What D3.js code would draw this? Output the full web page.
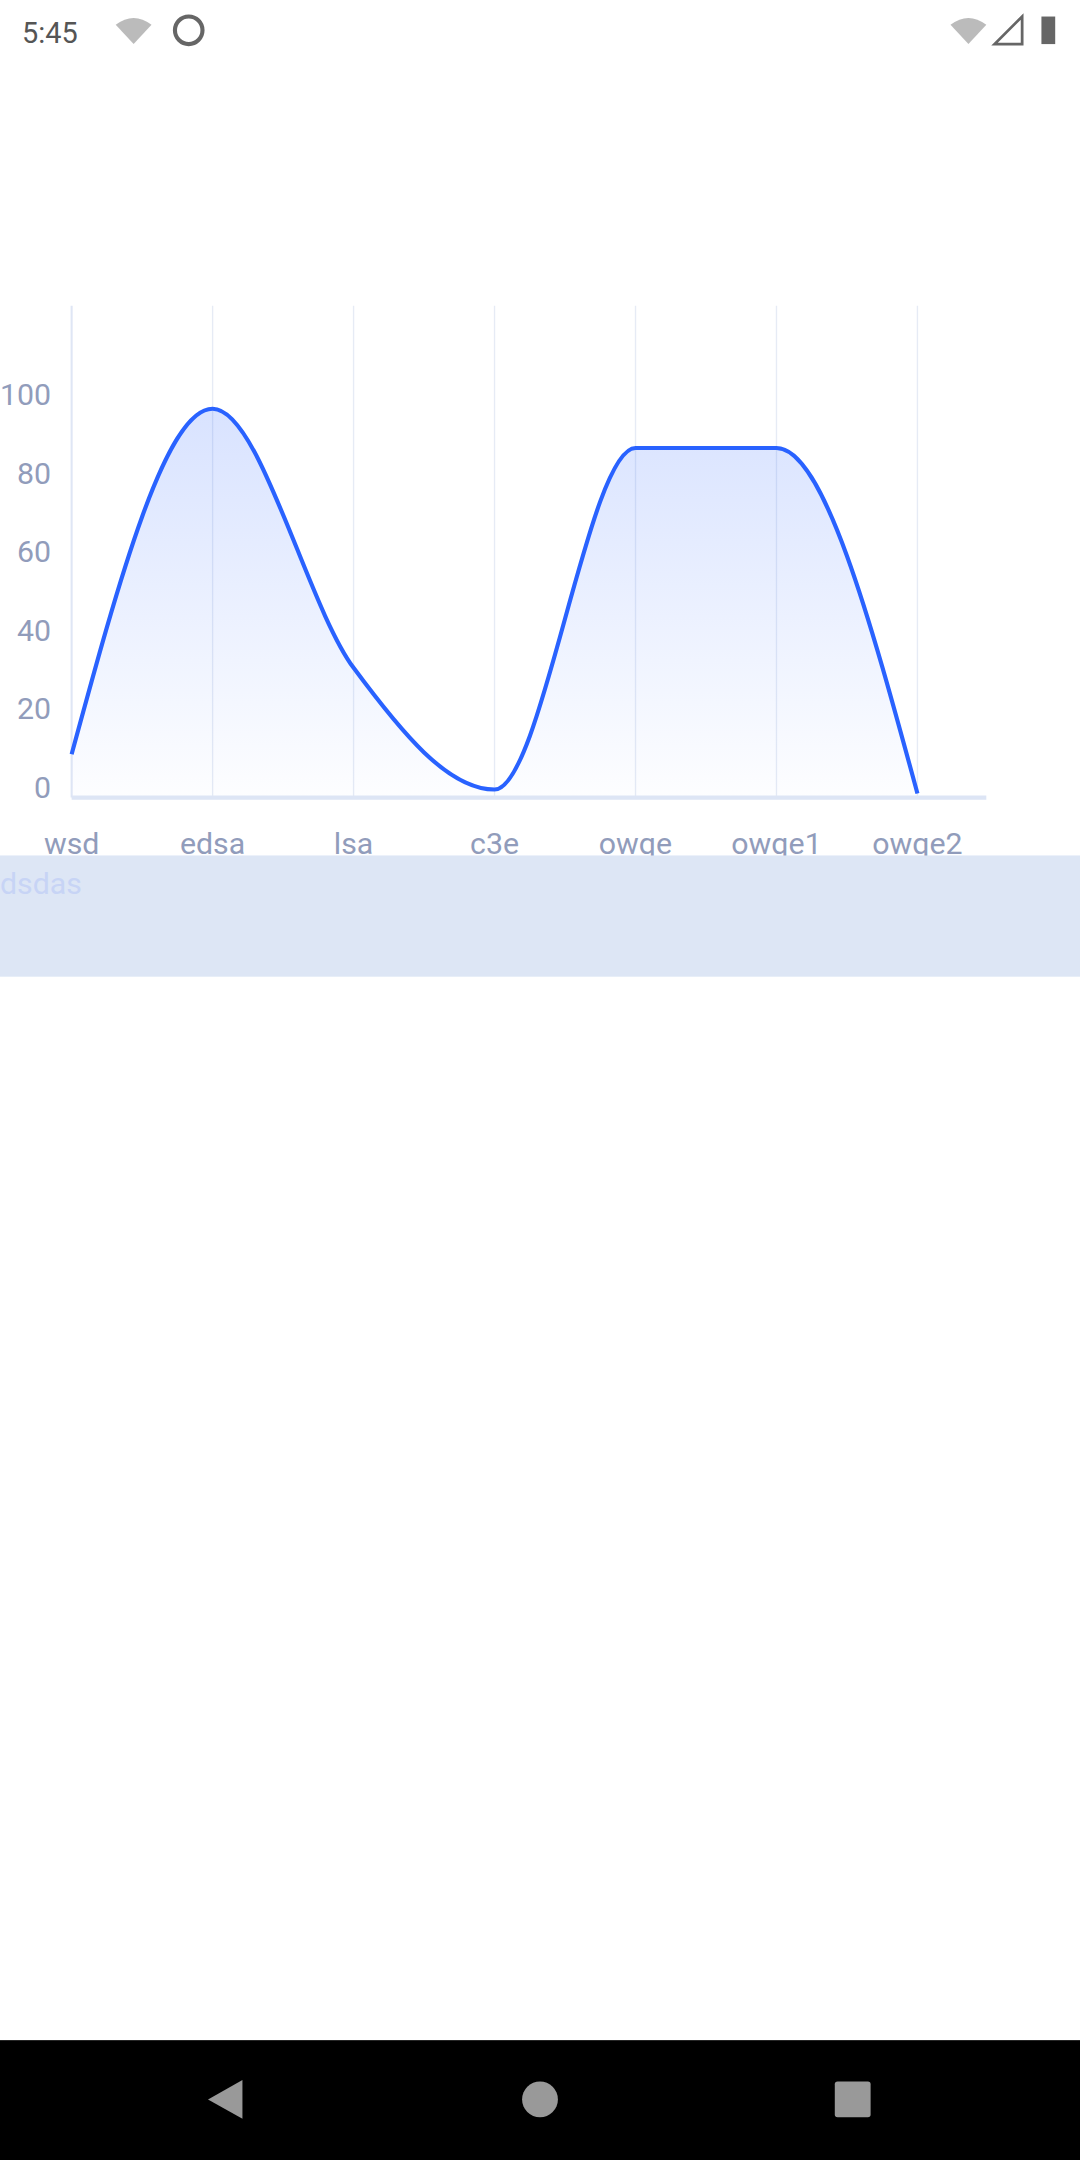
<!DOCTYPE html>
<html>
<head>
<meta charset="utf-8">
<script src="https://cdn.jsdelivr.net/npm/d3@7"></script>
<style>
  body { margin: 0; background: #fff; }
  svg { display: block; font-family: Roboto, "Noto Sans", sans-serif; }
</style>
</head>
<body>
<svg id="chart" width="1080" height="2160" viewBox="0 0 784 1568"></svg>
<script>
const categories = ['wsd', 'edsa', 'lsa', 'c3e', 'owqe', 'owqe1', 'owqe2'];
const values = [10, 98, 32, 1, 88, 88, 0];
const yTicks = [0, 20, 40, 60, 80, 100];

const svg = d3.select('#chart');

// status bar
svg.append('text').attr('x', 16).attr('y', 31).attr('font-size', 21).attr('fill', '#555').text('5:45');
svg.append('circle').attr('cx', 137).attr('cy', 22).attr('r', 10).attr('fill', 'none').attr('stroke', '#666').attr('stroke-width', 3);
svg.append('path').attr('d', 'M84,18 Q97,8 110,18 L97,32 Z').attr('fill', '#bbb');
svg.append('path').attr('d', 'M690,18 Q703,8 716,18 L703,32 Z').attr('fill', '#bbb');
svg.append('path').attr('d', 'M742,12 L742,32 L722,32 Z').attr('fill', 'none').attr('stroke', '#666').attr('stroke-width', 2);
svg.append('rect').attr('x', 756).attr('y', 12).attr('width', 10).attr('height', 20).attr('fill', '#666');

const x = d3.scalePoint().domain(categories).range([52, 666]);
const y = d3.scaleLinear().domain([0, 100]).range([576, 291]);

// vertical grid
svg.append('g').selectAll('line').data(categories.slice(1)).join('line')
  .attr('x1', d => x(d)).attr('x2', d => x(d))
  .attr('y1', 222).attr('y2', 579)
  .attr('stroke', '#e6ebf5').attr('stroke-width', 1);
svg.append('line').attr('x1', 52).attr('x2', 52).attr('y1', 222).attr('y2', 579)
  .attr('stroke', '#dfe6f5').attr('stroke-width', 1.5);

const grad = svg.append('defs').append('linearGradient')
  .attr('id', 'fillGrad').attr('x1', 0).attr('x2', 0).attr('y1', 0).attr('y2', 1);
grad.append('stop').attr('offset', '0%').attr('stop-color', '#2962ff').attr('stop-opacity', 0.18);
grad.append('stop').attr('offset', '100%').attr('stop-color', '#2962ff').attr('stop-opacity', 0.01);

const pts = categories.map((c, i) => [x(c), y(values[i])]);
svg.append('path').datum(pts)
  .attr('d', d3.area().x(d => d[0]).y0(579).y1(d => d[1]).curve(d3.curveMonotoneX))
  .attr('fill', 'url(#fillGrad)');
svg.append('path').datum(pts)
  .attr('d', d3.line().curve(d3.curveMonotoneX))
  .attr('fill', 'none').attr('stroke', '#2962ff').attr('stroke-width', 3);

// x axis line
svg.append('line').attr('x1', 52).attr('x2', 716).attr('y1', 579).attr('y2', 579)
  .attr('stroke', '#dde5f5').attr('stroke-width', 3);

// y labels
svg.append('g').selectAll('text').data(yTicks).join('text')
  .attr('x', 37).attr('y', d => y(d) + 3).attr('text-anchor', 'end')
  .attr('font-size', 22).attr('fill', '#919cbb').text(d => d);

// x labels
svg.append('g').selectAll('text').data(categories).join('text')
  .attr('x', d => x(d)).attr('y', 620).attr('text-anchor', 'middle')
  .attr('font-size', 22).attr('fill', '#919cbb').text(d => d);

// band
svg.append('rect').attr('x', 0).attr('y', 621).attr('width', 784).attr('height', 88).attr('fill', '#dde6f5');
svg.append('text').attr('x', 0).attr('y', 649).attr('font-size', 22).attr('fill', '#c7d4f5').text('dsdas');

// nav bar
svg.append('rect').attr('x', 0).attr('y', 1481).attr('width', 784).attr('height', 87).attr('fill', '#000');
svg.append('path').attr('d', 'M151,1524 L176,1510 L176,1538 Z').attr('fill', '#999');
svg.append('circle').attr('cx', 392).attr('cy', 1524).attr('r', 13).attr('fill', '#999');
svg.append('rect').attr('x', 606).attr('y', 1511).attr('width', 26).attr('height', 26).attr('rx', 2).attr('fill', '#999');
</script>
</body>
</html>
